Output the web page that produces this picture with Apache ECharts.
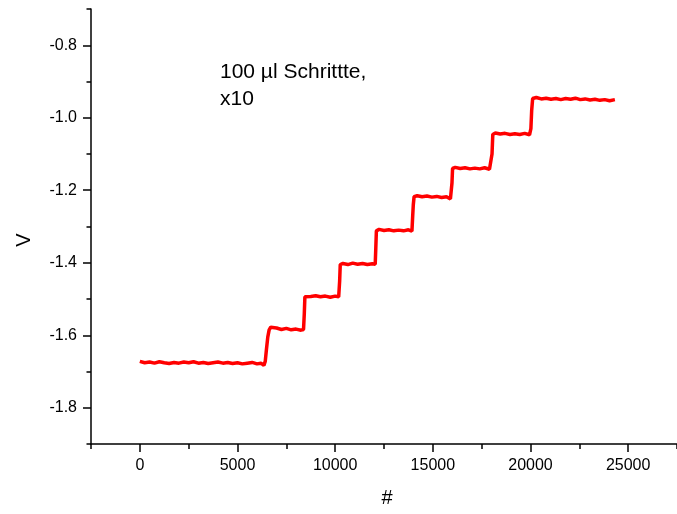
<!DOCTYPE html>
<html lang="de">
<head>
    <meta charset="UTF-8">
    <title>Schritte</title>
    <script src="https://cdn.jsdelivr.net/npm/echarts@6/dist/echarts.min.js"></script>
    <style>
        html, body { margin: 0; padding: 0; background: #fff; }
    </style>
</head>
<body>
<div id="chart" style="width: 677px;height:514px;"></div>
<script type="text/javascript">
    // sample index (#) and voltage
    const sampleX = [
        0, 250, 500, 750, 1000, 1250, 1500, 1750, 2000, 2250, 2500, 2750, 3000, 3250, 3500, 3750,
        4000, 4250, 4500, 4750, 5000, 5250, 5500, 5750, 6000, 6200, 6350, 6420, 6480, 6550, 6620,
        6700, 6800, 7000, 7250, 7500, 7750, 8000, 8250, 8380, 8420, 8450,
        8550, 8750, 9000, 9250, 9500, 9750, 10000, 10180, 10230, 10260,
        10400, 10650, 10900, 11150, 11400, 11650, 11900, 12050, 12080, 12110,
        12250, 12500, 12750, 13000, 13250, 13500, 13750, 13930, 13970, 14000, 14040,
        14200, 14450, 14700, 14950, 15200, 15450, 15700, 15900, 15940, 15980, 16010,
        16150, 16400, 16650, 16900, 17150, 17400, 17650, 17900, 18000, 18030, 18070,
        18200, 18450, 18700, 18950, 19200, 19450, 19700, 19950, 20020, 20060, 20110,
        20300, 20550, 20800, 21050, 21300, 21550, 21800, 22050, 22300, 22550, 22800,
        23050, 23300, 23550, 23800, 24050, 24320
    ];
    const sampleV = [
        -1.672, -1.676, -1.674, -1.677, -1.673, -1.676, -1.678, -1.675, -1.677, -1.674, -1.676, -1.673, -1.677, -1.675, -1.678, -1.676,
        -1.674, -1.677, -1.675, -1.678, -1.676, -1.679, -1.677, -1.675, -1.679, -1.677, -1.683, -1.672, -1.640, -1.605, -1.585,
        -1.578, -1.582, -1.580, -1.584, -1.581, -1.585, -1.583, -1.586, -1.584, -1.540, -1.494,
        -1.490, -1.493, -1.491, -1.494, -1.492, -1.495, -1.492, -1.494, -1.450, -1.405,
        -1.402, -1.405, -1.401, -1.404, -1.402, -1.405, -1.403, -1.404, -1.360, -1.312,
        -1.308, -1.311, -1.309, -1.312, -1.310, -1.312, -1.309, -1.313, -1.270, -1.240, -1.218,
        -1.215, -1.218, -1.216, -1.219, -1.217, -1.220, -1.218, -1.224, -1.226, -1.180, -1.140,
        -1.137, -1.140, -1.138, -1.141, -1.139, -1.141, -1.138, -1.142, -1.140, -1.100, -1.046,
        -1.042, -1.045, -1.043, -1.046, -1.044, -1.046, -1.043, -1.047, -1.030, -0.980, -0.947,
        -0.944, -0.948, -0.946, -0.949, -0.947, -0.950, -0.947, -0.949, -0.946, -0.950, -0.948,
        -0.951, -0.949, -0.952, -0.950, -0.953, -0.950
    ];
    const xTickLabels = [0, 5000, 10000, 15000, 20000, 25000];
    const yTickLabels = [-1.8, -1.6, -1.4, -1.2, -1.0, -0.8];

    const FONT = '"Liberation Sans", Arial, sans-serif';
    const lineStyle = {color: '#000', width: 1.5};

    let chart = echarts.init(document.getElementById('chart'));
    let option = {
        animation: false,
        backgroundColor: '#fff',
        grid: {left: 91, top: 9, width: 592, height: 435},
        xAxis: [
            {
                // short ticks every 2500
                type: 'value', min: -2500, max: 27500, interval: 2500,
                axisLine: {show: true, onZero: false, lineStyle: lineStyle},
                axisTick: {show: true, length: 5, lineStyle: lineStyle},
                axisLabel: {show: false},
                splitLine: {show: false}
            },
            {
                // long ticks + labels
                type: 'value', min: -2500, max: 27500, position: 'bottom',
                axisLine: {show: false, onZero: false},
                axisTick: {show: true, length: 8, lineStyle: lineStyle, customValues: xTickLabels},
                axisLabel: {
                    customValues: xTickLabels, margin: 14,
                    color: '#000', fontSize: 16, fontFamily: FONT,
                    formatter: v => String(v)
                },
                splitLine: {show: false}
            }
        ],
        yAxis: [
            {
                type: 'value', min: -1.9, max: -0.7, interval: 0.1,
                axisLine: {show: true, onZero: false, lineStyle: lineStyle},
                axisTick: {show: true, length: 4.5, lineStyle: lineStyle},
                axisLabel: {show: false},
                splitLine: {show: false}
            },
            {
                type: 'value', min: -1.9, max: -0.7, position: 'left',
                axisLine: {show: false, onZero: false},
                axisTick: {show: true, length: 8, lineStyle: lineStyle, customValues: yTickLabels},
                axisLabel: {
                    customValues: yTickLabels, margin: 14,
                    color: '#000', fontSize: 16, fontFamily: FONT,
                    formatter: v => v.toFixed(1)
                },
                splitLine: {show: false}
            }
        ],
        graphic: [
            {
                type: 'text', left: 220, top: 59,
                style: {
                    text: '100 µl Schrittte,\nx10', fill: '#000',
                    font: '21px ' + FONT, lineHeight: 27
                }
            },
            {
                type: 'text', x: 24, y: 240, rotation: Math.PI / 2,
                style: {
                    text: 'V', fill: '#000', font: '20px ' + FONT,
                    align: 'center', verticalAlign: 'middle'
                }
            },
            {
                type: 'text', x: 387, y: 498,
                style: {
                    text: '#', fill: '#000', font: '20px ' + FONT,
                    align: 'center', verticalAlign: 'middle'
                }
            }
        ],
        series: [
            {
                type: 'line',
                xAxisIndex: 0,
                yAxisIndex: 0,
                showSymbol: false,
                symbol: 'none',
                lineStyle: {color: '#ff0000', width: 3.5},
                data: sampleX.map((x, i) => [x, sampleV[i]])
            }
        ]
    };
    chart.setOption(option);
</script>
</body>
</html>
